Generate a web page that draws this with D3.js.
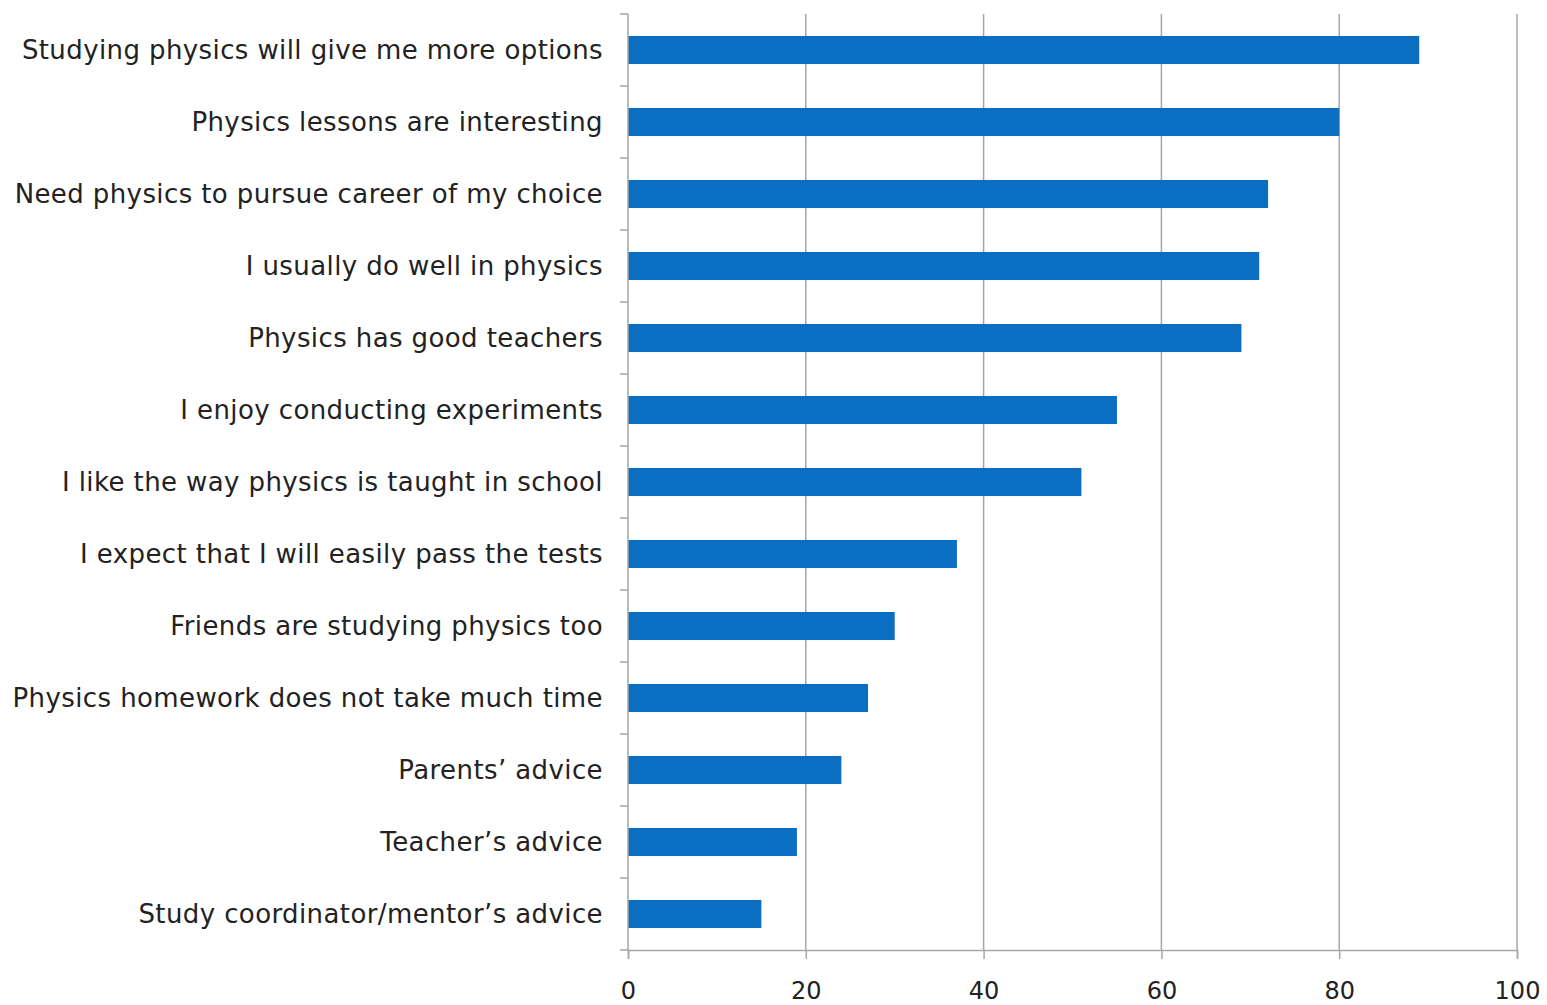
<!DOCTYPE html>
<html>
<head>
<meta charset="utf-8">
<script src="https://cdn.jsdelivr.net/npm/d3@7"></script>
<style>
  html, body { margin: 0; padding: 0; background: #fff; }
  svg { display: block; }
</style>
</head>
<body>
<svg id="chart" width="1547" height="1005"></svg>
<script>
// Reasons for choosing physics (% of respondents)
const categories = [
  "Studying physics will give me more options",
  "Physics lessons are interesting",
  "Need physics to pursue career of my choice",
  "I usually do well in physics",
  "Physics has good teachers",
  "I enjoy conducting experiments",
  "I like the way physics is taught in school",
  "I expect that I will easily pass the tests",
  "Friends are studying physics too",
  "Physics homework does not take much time",
  "Parents\u2019 advice",
  "Teacher\u2019s advice",
  "Study coordinator/mentor\u2019s advice"
];
const values = [89, 80, 72, 71, 69, 55, 51, 37, 30, 27, 24, 19, 15];
const xTicks = [0, 20, 40, 60, 80, 100];

(function drawChart() {
  const svg = d3.select("#chart");
  const plotTop = 14, plotBottom = 950;

  const x = d3.scaleLinear().domain([0, 100]).range([628, 1517]);
  const y = d3.scaleBand().domain(categories).range([plotTop, plotBottom]).paddingInner(0.61).paddingOuter(0.305);
  const yBounds = d3.scaleBand().domain(categories).range([plotTop, plotBottom]).padding(0);

  const font = "'DejaVu Sans', Verdana, sans-serif";
  const axisColor = "#a6a6a6";

  // vertical gridlines
  svg.append("g").selectAll("line").data(xTicks.filter(d => d > 0)).join("line")
    .attr("x1", d => x(d)).attr("x2", d => x(d))
    .attr("y1", plotTop).attr("y2", plotBottom)
    .attr("stroke", axisColor).attr("stroke-width", 1.5);

  // bars
  svg.append("g").selectAll("rect").data(categories).join("rect")
    .attr("x", x(0))
    .attr("y", d => y(d))
    .attr("width", (d, i) => x(values[i]) - x(0))
    .attr("height", y.bandwidth())
    .attr("fill", "#0a6fc2");

  // x axis
  const xAxis = svg.append("g").attr("transform", `translate(0,${plotBottom})`)
    .call(d3.axisBottom(x).tickValues(xTicks).tickSize(9));
  xAxis.select(".domain").attr("stroke", axisColor).attr("stroke-width", 1.5);
  xAxis.selectAll(".tick line").attr("stroke", axisColor).attr("stroke-width", 1.5);
  xAxis.selectAll("text")
    .attr("y", 49).attr("dy", 0)
    .attr("font-family", font).attr("font-size", 24).attr("fill", "#222");

  // y axis: line plus ticks at category boundaries
  const yAxisG = svg.append("g");
  yAxisG.append("line")
    .attr("x1", x(0)).attr("x2", x(0)).attr("y1", plotTop).attr("y2", plotBottom)
    .attr("stroke", axisColor).attr("stroke-width", 1.5);
  const boundaries = categories.map(c => yBounds(c)).concat([plotBottom]);
  yAxisG.selectAll("line.tk").data(boundaries).join("line").attr("class", "tk")
    .attr("x1", x(0) - 8).attr("x2", x(0)).attr("y1", d => d).attr("y2", d => d)
    .attr("stroke", axisColor).attr("stroke-width", 1.5);

  // category labels
  svg.append("g").selectAll("text").data(categories).join("text")
    .attr("x", 603)
    .attr("y", d => y(d) + y.bandwidth() / 2)
    .attr("dy", "0.33em")
    .attr("text-anchor", "end")
    .attr("font-family", font)
    .attr("font-size", 26)
    .attr("letter-spacing", 0.4)
    .attr("fill", "#222")
    .text(d => d);
})();
</script>
</body>
</html>
